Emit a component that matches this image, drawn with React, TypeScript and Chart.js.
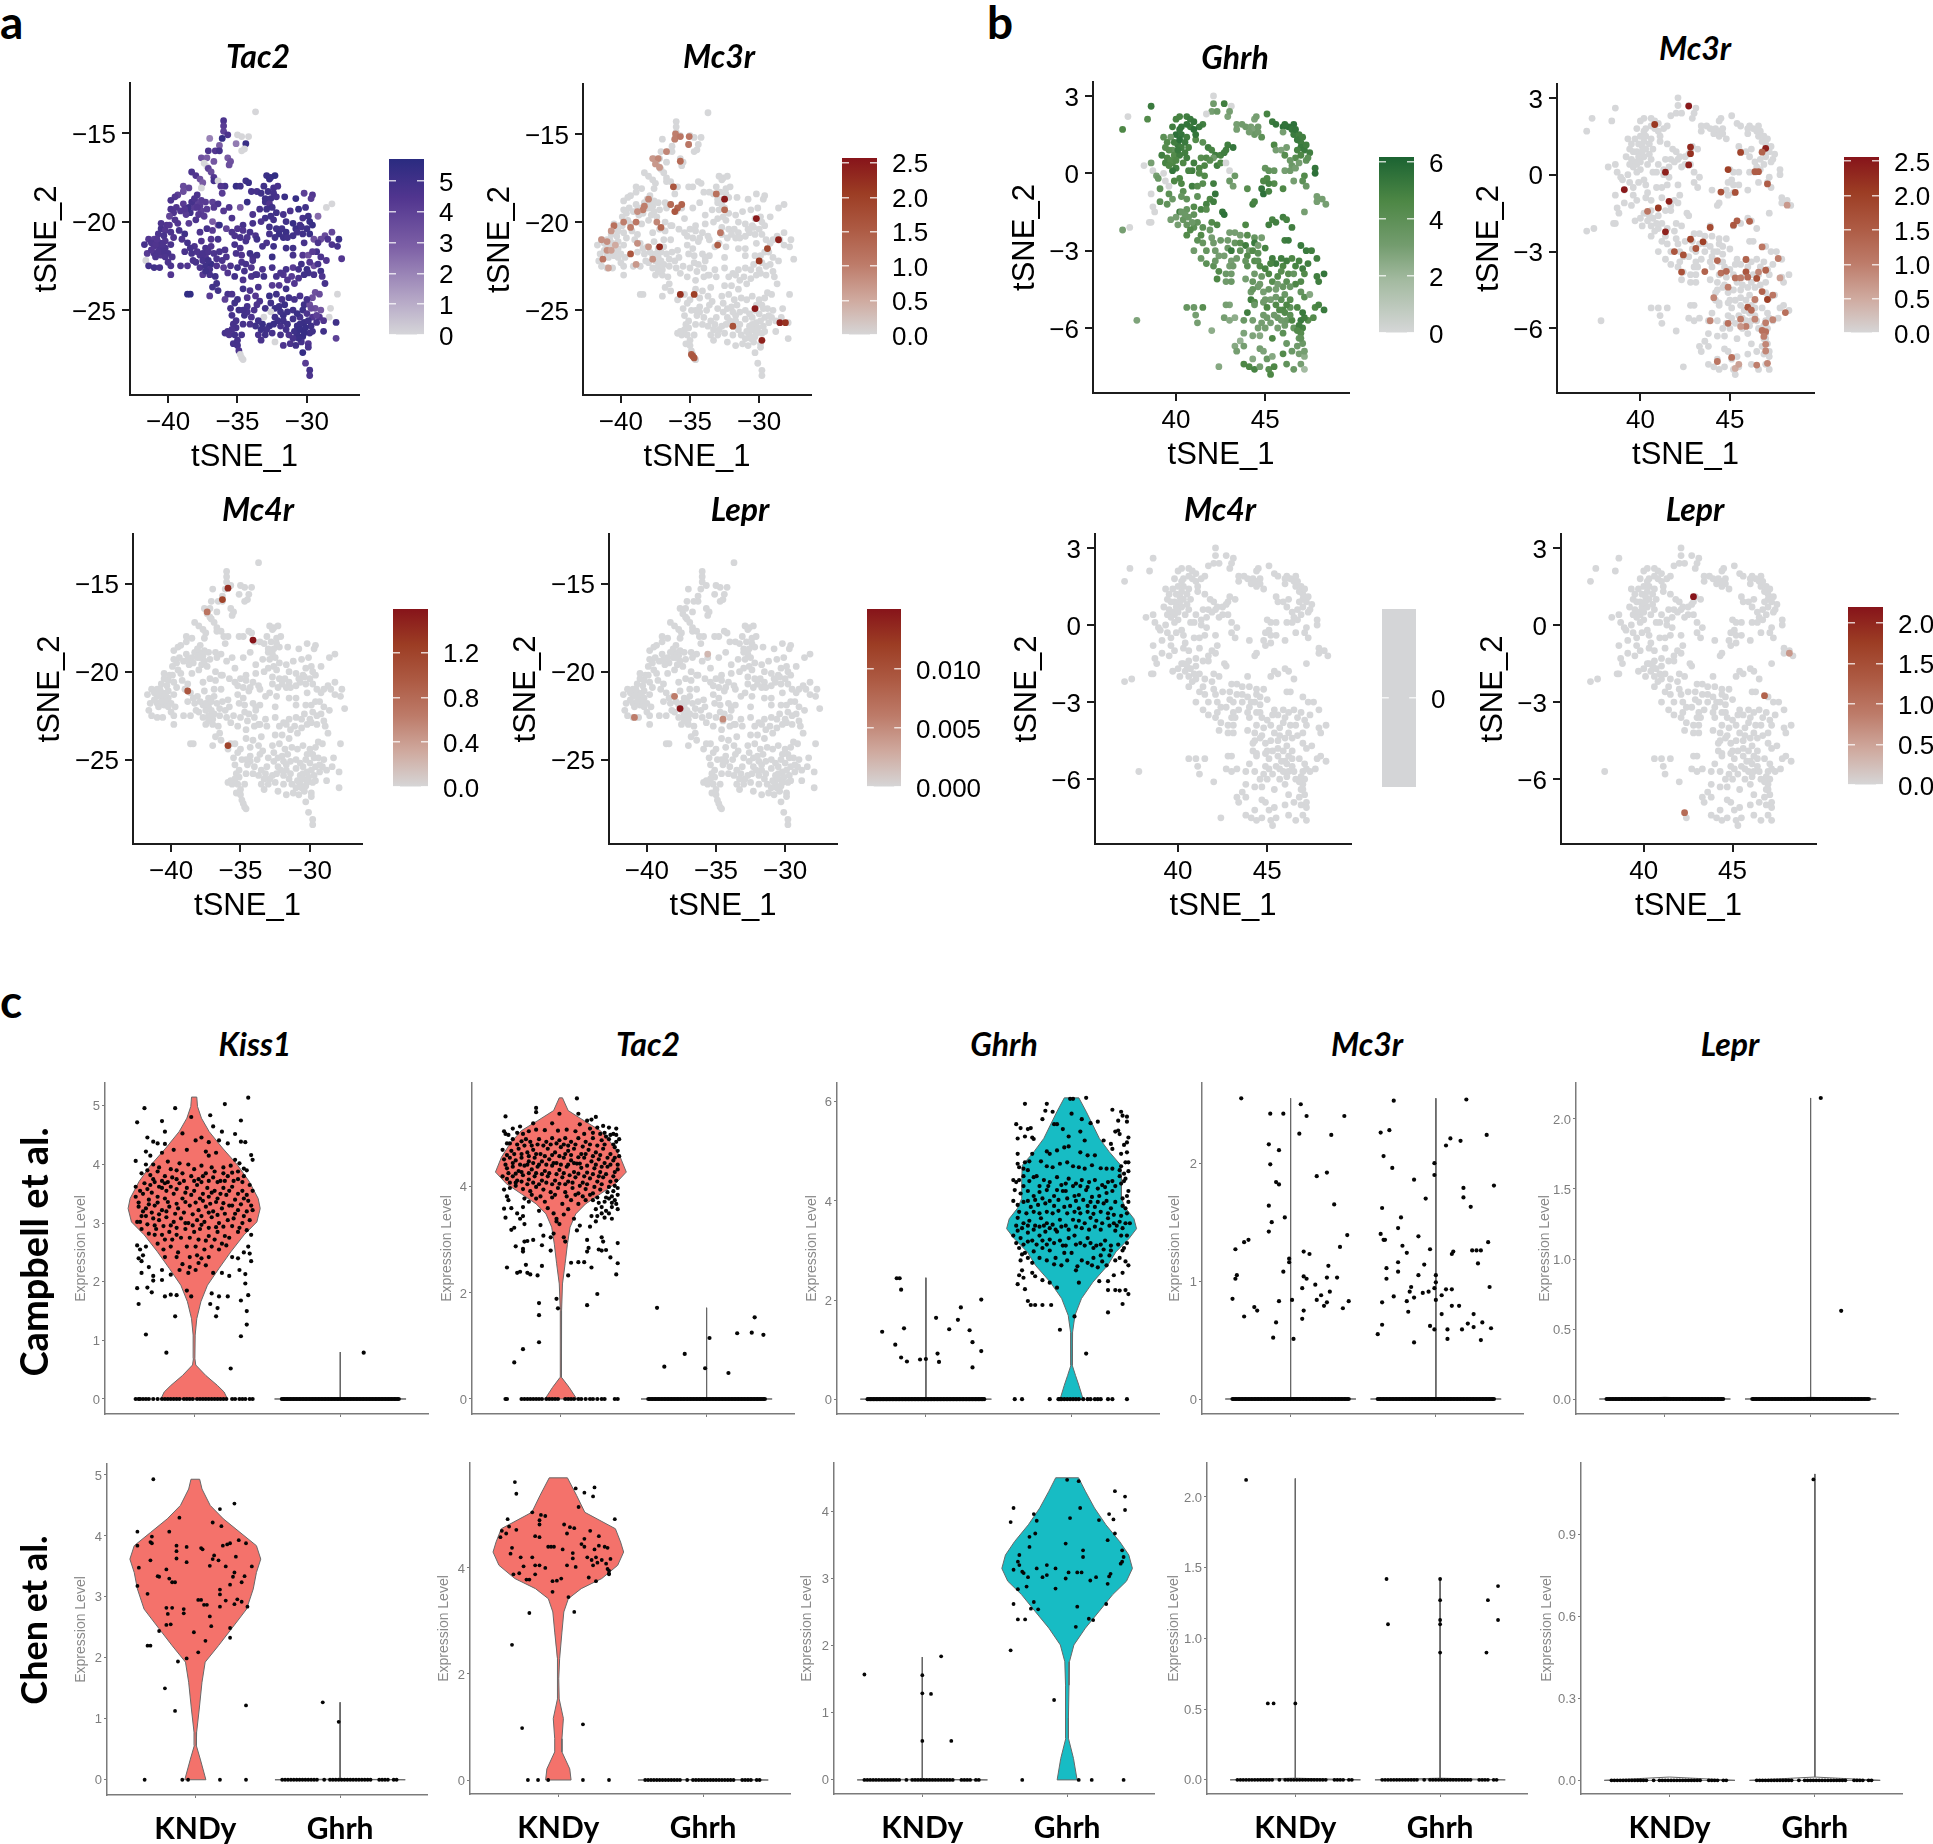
import React, { useEffect, useRef } from "react";
import { Chart, registerables } from "chart.js";
Chart.register(...registerables);

// ---------- tSNE cells, left cluster: [tSNE_1, tSNE_2, Tac2 level]
const cellsA = [
[-36,-14.3,4.6],[-36,-14.6,4.2],[-36,-14.9,4],[-36.1,-15.3,5.3],[-35.7,-15.1,4.6],[-37,-15.3,2],[-35,-15.1,0],[-34.7,-15.2,0],[-34.2,-15.2,0],[-33.7,-13.8,0],[-35.1,-15.6,2.2],[-34.4,-15.6,5.2],[-34.7,-16,0],[-34.5,-15.9,0],[-36.3,-15.7,3],[-37.1,-16,4.6],[-36.6,-16,4.4],[-36.3,-16,4.8],[-37.6,-16.4,3.4],[-37.2,-16.4,3],[-37.4,-16.7,0],[-37.2,-16.9,0],[-36.7,-16.6,3.2],[-35.7,-16.4,3],[-35.5,-16.6,3.4],[-35.6,-16.8,3.5],[-37.1,-17,4],[-36.9,-17.2,3.6],[-36.7,-17.5,4.4],
[-38.3,-17.2,4.6],[-38,-17.4,4.5],[-37.7,-17.6,3.4],[-37.5,-17.8,3],[-36.7,-17.7,4.8],[-36.4,-17.7,0],[-34.4,-17.7,5],[-34.2,-17.8,5.2],[-32.9,-17.4,5.2],[-32.6,-17.5,5.3],[-32.3,-17.4,5.5],[-32.7,-17.6,5.3],[-35.1,-18,5.3],[-34.8,-18,5],[-35.9,-18,4.8],[-36.2,-18,4.5],[-33.1,-18,5],[-32.4,-18.1,4.8],[-32.1,-18,4.7],[-38.9,-18,3.6],[-38.5,-18.1,3.8],[-37.6,-18.1,0],
[-39.3,-18.5,4],[-39.5,-18.6,4.4],[-39.8,-18.8,4.6],[-38.9,-18.3,3.5],[-37.9,-18.5,4.6],[-37.6,-18.8,4.2],[-38,-18.9,4],[-36.1,-18.4,4.2],[-34,-18.3,4.8],[-33.6,-18.3,4.8],[-33.3,-18.4,5],[-33,-18.7,5],[-32.6,-18.7,5],[-32.2,-18.6,4.8],[-31.6,-18.6,5.2],[-30.8,-18.7,5.3],[-30.2,-18.4,4],[-29.6,-18.5,4.4],[-29.7,-18.7,4.2],[-28.2,-19,0],[-28.6,-19.2,0],[-34.3,-18.9,5.3],[-33,-18.9,5],[-32.7,-19,4.5],
[-39.8,-19.3,4.6],[-39.6,-19.5,4.5],[-39.9,-19.7,3.8],[-38.9,-19,4.2],[-38.5,-19.2,5],[-38.4,-19.5,5],[-38.7,-19.6,4.2],[-38.1,-19.2,4.2],[-37.7,-19.1,4.2],[-37.3,-18.9,4.2],[-37.6,-19.4,4],[-37.2,-19.3,4.2],[-36.8,-18.9,4],[-36.4,-19,4.6],[-36,-19.4,4.3],[-35.6,-19.2,4.5],[-34.8,-19.2,3],[-33.9,-19.6,4.6],[-33.4,-19.3,4.8],[-32.5,-19.2,5],[-32.2,-19.5,5],[-32.6,-19.7,5],[-33,-19.8,5],[-31.7,-19.6,4.8],[-31.2,-19.4,4.6],[-30.6,-19.3,5.3],[-30.1,-19.2,5],[-30.3,-19.8,4.8],[-29.9,-19.7,5],[-29.2,-19.7,2.6],[-29.8,-20,5.3],
[-39.3,-20.1,4.4],[-38.5,-20.1,4.2],[-38,-19.9,4.6],[-36.8,-20,3],[-36.4,-20.2,3.2],[-35.4,-19.8,4.6],[-34.6,-20.2,4.8],[-33.9,-20.1,4.8],[-33.3,-20,4.6],[-31.5,-20,5],[-31,-20.1,5.3],[-30.5,-20.2,4.8],[-30.8,-20.4,5.2],[-29.6,-20.2,5.3],[-40.5,-20.4,4.8],[-40.7,-20.7,4.6],[-40.2,-20.5,4.4],[-39.8,-20.6,4.6],[-39.2,-20.5,4.8],[-38.8,-20.7,5],[-37.7,-20.6,4.6],[-37.2,-20.4,4.8],[-36.8,-20.5,4.2],[-36.3,-20.2,5.3],[-35.8,-20.4,3.8],[-35.4,-20.6,4.6],[-35,-20.4,4.5],[-34.6,-20.5,4.5],[-34.1,-20.6,4.8],[-33.7,-20.8,4.6],[-32.7,-20.3,5],[-32.2,-20.4,5],[-31.8,-20.4,5],[-31.5,-20.6,5.2],[-32.7,-20.7,4.8],[-32,-20.7,5.2],[-31,-20.8,5],[-30.3,-20.7,5],[-29.8,-20.7,5.2],[-28.2,-20.6,3.8],[-28.7,-20.8,3.6],
[-41.7,-21.3,4.8],[-41.4,-21,4.4],[-41,-21,4.2],[-40.6,-21.2,4.6],[-40.2,-21.1,4.5],[-40.6,-21.5,4.6],[-41,-21.4,4.4],[-40.2,-21.5,4.7],[-39.8,-21.3,4.7],[-39,-21,4.6],[-38.6,-21.2,4.9],[-38.1,-21.4,4.6],[-37.6,-21.1,4.5],[-37.3,-21.5,4.7],[-36.9,-21.4,4.5],[-36.4,-21,4.8],[-36.9,-21,4.4],[-35.2,-21.3,4.8],[-34.8,-21.5,4.6],[-34.4,-21.1,4.8],[-33.6,-21,5],[-32.9,-21.2,4.6],[-32.4,-21.4,5],[-31.5,-21.5,5],[-31,-21.5,5],[-30.2,-21.2,4.8],[-29.5,-21,3.4],[-29,-21,3.6],[-28.5,-21,4.6],[-28.2,-21.3,4.6],[-27.8,-21.4,4.8],[-27.7,-21,5.2],
[-41.5,-21.8,4.2],[-41,-21.8,4.6],[-40.5,-21.9,4.5],[-40,-21.8,4.7],[-39.7,-22,4.6],[-38.8,-21.7,4.7],[-38.3,-21.8,4.8],[-37.7,-21.9,4.6],[-37.3,-22,4.5],[-36.7,-21.8,4.6],[-36.3,-21.7,4.7],[-35.8,-22,4.6],[-35.1,-21.8,4.7],[-34.7,-21.9,4.5],[-34.1,-21.8,5.1],[-33.6,-21.9,5],[-33.9,-22,4.9],[-32.5,-22,5.2],[-31,-21.9,4.8],[-30.3,-21.9,4.4],[-29.9,-21.9,3.4],[-29.3,-21.7,4.8],[-29,-22,4.6],[-28.6,-22.2,4.5],[-27.5,-22.1,4.4],
[-41.6,-22.2,0],[-41.4,-22.5,4.9],[-41,-22.6,5],[-40.6,-22.6,4.8],[-39.8,-22.5,4.6],[-39.1,-22.5,4.6],[-38.6,-22.5,4.4],[-38,-22.3,4.8],[-37.7,-22.6,4.7],[-37.3,-22.5,5],[-36.9,-22.4,5.2],[-36.5,-22.5,4.5],[-36,-22.6,4.2],[-35.5,-22.5,4.6],[-35,-22.6,5],[-34.5,-22.8,4.8],[-34,-22.6,4.5],[-33.2,-22.7,4.6],[-32.5,-22.6,4.8],[-31.5,-22.7,4.8],[-31,-22.6,4.2],[-30.4,-22.4,5],[-30,-22.7,5.2],[-29.5,-22.5,3.4],[-29.9,-22.9,5],[-29,-22.8,5],
[-39.8,-23,4.4],[-37.5,-23,4.2],[-37,-23,4.8],[-36.6,-23.1,5],[-35.2,-23.1,4.9],[-34.6,-23.3,4.6],[-34,-23.1,4.6],[-33.6,-23,4.7],[-33.1,-23.1,5],[-32.2,-23.1,4.8],[-31.7,-23,4.4],[-31.1,-23.1,4.2],[-30.6,-23.2,4.6],[-28.9,-23.1,4.6],[-28.7,-23.5,4.8],[-36.5,-23.5,5],[-36.8,-23.7,5],[-36.4,-23.9,5],[-34.6,-23.8,5],[-34.1,-23.9,4.6],[-33.5,-23.7,4.7],[-32.5,-23.6,4.2],[-32,-23.6,4.4],[-31.5,-23.8,5],[-30.9,-23.5,4.4],
[-38.6,-24.1,5.5],[-38.4,-24.1,5.5],[-37,-24.2,4.2],[-35.7,-24.1,4.8],[-35.4,-24.1,4.6],[-35,-24.4,5],[-34.3,-24.3,4.5],[-33.7,-24.2,4.4],[-33.4,-24.5,4.7],[-32.7,-24.2,5.2],[-32.2,-24.1,5],[-31.8,-24.4,4.8],[-30.9,-24.4,4.8],[-30.2,-24.7,5],[-29.4,-24,3.4],[-29.1,-24.1,3.6],[-27.8,-24.1,0],[-28.3,-24.9,0],[-35.9,-24.4,4],[-35.5,-24.9,4.8],[-35.2,-24.6,5],[-34.3,-24.8,4.8],[-33.8,-25,4.6],[-33,-24.9,5],[-32.3,-24.9,5.2],[-31.6,-24.7,5.2],[-30.3,-25,5.1],[-29.8,-24.7,3.4],[-29.4,-24.9,3.4],[-29,-25,3.2],
[-35.4,-25.3,4.8],[-34.5,-25.3,5],[-34,-25.4,4.6],[-33.1,-25.4,0],[-32.6,-25.1,0],[-32.3,-25.4,5],[-31.7,-25.3,5.2],[-31,-25.5,5],[-30.5,-25.4,4.8],[-30,-25.2,4.6],[-29.6,-25.4,4.4],[-29.1,-25.4,4.4],[-28.4,-25.4,0],[-27.9,-25.7,5],[-35.3,-25.8,4.8],[-34.6,-25.8,4.8],[-33.7,-25.9,5],[-33.2,-25.8,5.2],[-32.7,-25.9,5.2],[-31.9,-25.9,4.8],[-31.4,-25.8,5],[-30.7,-25.9,5.2],[-30.2,-25.7,5.2],[-29.7,-25.9,5],[-29.3,-25.7,4.8],[-28.8,-25.6,4.5],[-35.9,-26.3,4.8],[-35.6,-26.4,4.6],[-35.2,-26.4,4.9],[-34.7,-26.4,4.8],[-33.5,-26.4,4.7],[-33,-26.4,5],[-32.5,-26.3,4.8],[-31.9,-26.4,4.8],[-31.3,-26.4,4.6],[-30.7,-26.4,5.2],[-30.3,-26.5,5.3],[-29.8,-26.3,5],[-28.8,-26.2,5],[-27.9,-26.6,4],[-35.3,-26.9,4.8],[-35,-27,4.8],[-33.3,-26.7,4.7],[-32.3,-26.8,0],[-31.7,-27,4.6],[-31.2,-26.9,4.7],[-30.8,-27,5],[-30.4,-26.8,4.8],[-29.9,-26.9,4.4],[-34.9,-27.3,4.6],[-34.8,-27.5,0],[-34.7,-27.7,0],[-34.6,-27.8,0],[-30.3,-27.4,5.4],[-29.9,-27.1,4.7],[-30.1,-28,4.2],[-29.8,-28.7,4.6],[-29.8,-28.4,4.8],
[-41.2,-21.2,4.6],[-40.9,-21.3,4.5],[-40.8,-21,4.4],[-40.4,-21.3,4.6],[-40.4,-21.7,4.7],[-40.7,-21.7,4.6],[-41.2,-21.6,4.4],[-40.9,-22,4.6],[-40.2,-22,4.6],[-40,-22.3,4.6],[-40.3,-20.8,4.7],[-40.5,-20.1,4.6],[-40.1,-20.2,4.5],[-39.9,-20.2,4.4],[-39.6,-20.9,4.5],[-39.4,-19.2,4.5],[-39.1,-19.4,4.4],[-38.8,-19.3,4.4],[-38.3,-18.9,4.8],[-38.1,-18.7,4.6],[-37.9,-19.2,4.4],[-37.8,-19.6,4.3],[-37.4,-19.7,4.2],[-36.7,-19.2,4.3],[-39.5,-19.9,4.5],[-38.4,-21.5,4.8],[-37.9,-21.7,4.6],[-38.2,-22.2,4.7],[-37.5,-22.2,4.8],[-37.1,-22.2,5],[-36.5,-22.1,4.6],[-36.1,-22.2,4.6],[-37.5,-21.8,4.7],[-37.1,-21.7,4.6],[-37,-22.7,4.8],[-37.3,-22.8,5],[-35.7,-22.9,4.4],[-34.7,-22.3,4.7],[-34.4,-22.4,4.8],[-35.9,-21.6,4.6],[-35.2,-20.8,4.6],[-34.8,-20.9,4.7],[-34.3,-20.9,4.6],[-33.2,-21.4,4.8],[-32.3,-20.9,5],[-31.7,-20.9,5.1],[-31.4,-20.9,5],[-30.7,-20.6,4.9],[-30.4,-20.3,5],[-30,-20.4,5.1],[-29.2,-21.2,4.6],[-29.6,-21.7,4.2],[-29.2,-22.4,4.8],[-29.8,-22.3,4.4],[-30.6,-22.7,4.8],[-30.2,-23,5],[-29.5,-23,4.8],[-31.9,-22.9,4.6],[-31.4,-23.3,4.4],[-33.7,-23,4.8],[-33.9,-22.2,4.7],[-32.8,-18.3,5],[-32.4,-18.4,4.9],[-32.9,-19.3,5],[-32.4,-19.9,4.9],
[-31.4,-25.1,5.1],[-31,-25,5],[-30.7,-25.2,5.2],[-30.5,-25.8,5.2],[-30.9,-26.2,5.1],[-30.5,-26.1,5.3],[-30.1,-26,5.3],[-29.9,-25.6,5.1],[-29.6,-26.2,5],[-30.2,-26.3,5.3],[-30.6,-26.6,5.2],[-31,-26.6,4.8],[-31.5,-26.1,4.9],[-31.7,-25.6,5],[-32.1,-25.6,5.1],[-32.4,-25.8,5.2],[-32.9,-26.1,5],[-33.3,-26.1,5.1],[-33.5,-25.6,5],[-34.1,-25.8,4.7],[-34.3,-25.1,4.8],[-35.1,-26,4.8],[-35.4,-26.1,4.7],[-35.7,-26.2,4.7],[-35,-26.7,4.8],[-29.7,-24.9,3.6],[-29.3,-25.3,4],[-29.6,-24.3,3.4],[-30,-24.4,4.8],[-30.5,-24.2,4.7],[-31.3,-24.3,5],[-32.6,-24.6,5],[-32,-24.8,5.1],[-31.9,-25.1,5.1],[-33.6,-24.7,4.6],[-34.9,-25,5],[-34.6,-25,4.9],[-35.1,-25.6,4.8]
];
// ---------- tSNE cells, right cluster: [tSNE_1, tSNE_2, Ghrh level]
const cellsB = [
[42.1,3,0],[42.1,2.7,3.2],[42.7,2.7,5],[43.1,2.6,0],[38.6,2.6,5.2],[37.3,2.2,0],[38.4,2.1,4.4],[37,1.7,4.6],[42,2.4,3],[41.7,2.3,0],[42.3,2.4,3.4],[42.9,2.2,2.8],[43,2.4,3],[45.1,2.3,4.8],[44.4,2.1,2.8],[44.5,2.2,3],[40,2.1,4.8],[40.2,2.2,4.8],[40.6,2.2,5],[40.8,2.1,5.2],[41,2,5.4],[41.5,1.9,5],[41.3,1.8,5.2],[39.8,1.8,5],[40.3,1.8,5.4],[40.8,1.8,5.2],[41,1.7,5.6],[45.4,2,5.2],[45.6,1.9,5.4],[46,1.8,5.6],[46.3,1.8,5.6],[46.6,1.9,5.6],[46.5,1.7,5.4],[43.4,1.9,3],[43.4,1.7,3],[43.9,1.8,3.2],[44.2,1.8,3],[44.4,1.7,2.8],[44.6,1.8,3.2],[44.4,1.5,3.4],[44.8,1.4,4],[46,1.6,3],[46.6,1.5,5.2],[46.9,1.5,5],
[40,1.5,5.6],[40.3,1.5,5.4],[40.6,1.4,5],[39.3,1.4,4],[39.7,1.4,3.2],[41.1,1.3,4.4],[41.5,1.2,4],[39.5,1.2,4.4],[47,1.2,5],[47,1,5.2],[45.5,1.1,4.6],[46.2,1,3],[40.1,1.1,5.2],[40.3,1,5],[40.7,1,4.8],[39.4,1,4.2],[39.8,.9,3.8],[41.8,1,5],[42,.9,4.8],[42.9,1.1,5],[43.2,1,5.4],[42.8,.9,5],[47.2,.9,5.2],[47.5,.8,5],[45.6,.9,3],[45.9,.9,2.8],
[39.9,.7,4.4],[40.2,.7,5],[40.6,.6,5],[39.2,.7,5],[39.5,.6,4.6],[42.2,.7,5],[42.5,.7,4.8],[42.7,.8,5],[41.4,.6,4.2],[41.7,.6,4.4],[42.1,.6,3.2],[46.1,.7,4.2],[46.7,.6,4.2],[47,.7,4.6],[47.3,.5,3.8],[39.4,.4,4.8],[39.8,.4,4.6],[40.4,.4,4.6],[41,.4,5],[41.3,.2,4.6],[42.3,.3,5],[42.5,.4,4.6],[42.8,.4,0],[38.2,.3,0],[38.6,.4,3],[40,.2,5],[40.9,.1,5],[46.5,.3,3.4],[46.9,.4,3],
[38.7,.1,0],[38.9,-.1,3],[39.3,0,0],[39.8,.1,5.4],[41.3,0,4.4],[41.6,-.1,4.4],[43,.1,0],[43.3,-.1,3.4],[45,.2,3.6],[45.2,.1,3.8],[45.5,.1,3.6],[46.1,.1,3],[46.4,.1,3.2],[46.7,.2,3],[47.8,.2,5.4],[47.8,0,5.6],[39,-.2,3.4],[40.2,-.2,4.6],[47.2,-.1,4.4],[45.1,-.2,4.6],[44.9,-.3,4.6],[45.5,-.4,4.4],[45.2,-.4,4.8],[43,-.3,3.4],[46.6,-.3,3],[47.1,-.3,4],[43.2,-.5,3],[40.3,-.4,4.6],[39.4,-.3,0],[39.6,-.5,0],[40.9,-.5,5],[41.2,-.5,4.2],[41.5,-.4,4.2],[42.1,-.4,5],[39.1,-.6,4],[44,-.6,4.2],[44.8,-.6,5.4],[44.9,-.8,5.6],[45.2,-.7,4.8],[46,-.6,4.6],[47.3,-.5,3.4],
[39.6,-.8,4],[40.4,-.7,4],[38.6,-.8,0],[39.8,-1,3.4],[40.3,-.9,3.6],[40.6,-1,3.8],[41.2,-.9,3.8],[42.2,-.8,5.4],[41.9,-1,4.6],[42.1,-1.1,5],[47.9,-.9,3],[48.2,-1,3],[48.4,-1.2,3],[47.9,-1.1,3],[39.1,-1.1,4],[39.5,-1.2,3.8],[41.7,-1.2,4.8],[41,-1.3,4.4],[44.3,-1.2,5],[44.4,-1.1,4.8],[38.7,-1.3,0],[38.8,-1.5,0],[41.4,-1.4,4.8],[41.7,-1.4,4.2],[40.2,-1.5,5],[40.6,-1.4,3.6],[42.6,-1.5,5.4],[42.7,-1.6,5.6],[47.2,-1.5,3],[40,-1.7,3],[40.4,-1.8,3.6],[40.7,-1.7,3.4],[41,-1.6,3.8],[39.7,-1.8,3],[38.5,-1.9,0],[38.6,-1.9,0],[42,-1.9,4.4],[42.3,-2,4.6],[45.4,-1.8,4.8],[45.6,-1.9,5],[46,-1.7,5],[46.2,-1.8,4.8],[45.2,-2,5],[46.5,-2.1,5],
[40.1,-2,3],[40.6,-2,3.6],[41.2,-1.9,3.8],[41.5,-2.1,4],[41,-2.1,4],[43.9,-2,4.6],[37,-2.2,3],[37.4,-2.1,0],[41.4,-2.4,4.4],[43,-2.3,3],[43.3,-2.3,3],[43.6,-2.4,3],[44,-2.4,4.2],[44.4,-2.5,3.6],[44.8,-2.5,3],[40.6,-2.4,4.4],[42,-2.5,3],[41.2,-2.6,4],[41.5,-2.7,3.6],[42.1,-2.7,3.2],[42.9,-2.6,3.2],[43.3,-2.7,3.6],[43.6,-2.7,4.2],[44.4,-2.7,5.2],[44.6,-2.8,3],[46.1,-2.6,5],[46.3,-2.6,5.2],[41,-3,3.2],[41.7,-3,3.6],[42.2,-3,3.2],[42.9,-2.9,3.4],[43.1,-3,5.2],[43.9,-2.8,5],[44.1,-3,3],[45,-2.9,4.8],[47,-2.8,5.2],[47.3,-3,5.2],[47.6,-3,5],[41.4,-3.3,3.4],[42.4,-3.2,3],[43.1,-3.4,3],[43.4,-3.3,3.2],[44,-3.2,4.4],[44.4,-3.4,4.2],[44.6,-3.4,4],[45.9,-3.3,5],[47.9,-3.3,5],
[41.7,-3.5,4],[42.1,-3.6,4],[42.4,-3.8,4.4],[43,-3.6,3],[44,-3.6,4],[44.7,-3.6,4.4],[45,-3.7,4.8],[45.6,-3.5,5.2],[46,-3.6,4.6],[46.7,-3.6,4.8],[47.1,-3.7,5],[42.8,-3.9,3.4],[43.1,-3.9,3.2],[44.4,-3.9,3.2],[44.8,-4,3.4],[45.2,-3.9,4.6],[45.7,-4,4.4],[46.3,-3.9,4.2],[46.6,-3.9,3.6],[47.2,-3.9,4.4],[47.9,-4,5],[48.3,-3.9,5.4],[42.3,-4.1,4.6],[42.8,-4.2,3.2],[43.1,-4.2,3.4],[43.9,-4.1,3],[44.3,-4.2,3.6],[44.7,-4.3,3.2],[45.4,-4.2,4.2],[46.7,-4.3,4.6],[47,-4.2,4.4],[48,-4.2,5],
[44.2,-4.6,3.2],[44.9,-4.6,3],[45.6,-4.5,3],[46.1,-4.7,3.4],[47,-4.6,3.6],[47.2,-4.8,4],[47.5,-4.7,2.6],[44.2,-4.9,5],[44.4,-5,4.4],[44.9,-5,3.2],[45.3,-4.9,3],[45.9,-4.9,4],[46.4,-4.9,4.2],[44.4,-5.1,3.4],[41.5,-5.2,4.2],[40.6,-5.2,3.6],[41,-5.2,3.4],[43,-5.1,2.8],[42.8,-5.1,3],[45.1,-5.2,4.6],[45.6,-5.1,4.4],[46,-5.3,4.6],[46.4,-5.2,3.8],[46.8,-5.2,4.6],[47.8,-5.2,4.6],[48,-5.1,4.8],[48.3,-5.3,5.2],[44,-5.4,5],[41.1,-5.5,3],[42.7,-5.6,3],[43,-5.7,2.6],[43.3,-5.6,2.4],
[41.2,-5.8,3],[37.8,-5.7,2.8],[43.8,-5.7,3.4],[44.3,-5.7,3],[44.8,-5.8,3],[45.3,-5.8,3],[45.7,-5.6,3.4],[46.2,-5.7,3.4],[46.5,-5.7,4.6],[47,-5.7,5.2],[47.4,-5.7,4.2],[47.7,-5.6,4.4],[44.6,-6,3],[45,-6,3],[45.7,-6,3],[46.1,-5.9,3.2],[46.6,-6,3.6],[47.1,-6,4.8],[47,-6.2,4.2],[42,-6.1,2.4],[43.8,-6.2,2.8],[44.3,-6.3,2.8],[44.7,-6.3,2.6],[45.4,-6.4,4.6],[46,-6.2,4],[46.9,-6.4,3.6],[47.1,-6.6,3.4],
[43.6,-6.5,2.2],[43.3,-6.7,2.6],[43.8,-6.7,3],[43.4,-6.9,3],[44.7,-6.8,3],[44.9,-6.9,2.8],[46.2,-6.6,3.4],[46.5,-6.9,3.4],[46.9,-7,3],[47.2,-7.1,2.4],[44.3,-7.2,2.6],[45.1,-7.2,3.4],[45.4,-7.1,2.6],[46,-7,4.4],[43.8,-7.4,4.6],[44.1,-7.5,4.6],[44.4,-7.6,4.8],[44.7,-7.5,3],[45.2,-7.6,4.2],[45.5,-7.5,4.6],[45.3,-7.8,4.6],[46.2,-7.4,3.8],[46.6,-7.6,3.4],[47,-7.4,3],[47.2,-7.6,1.8],[42.4,-7.5,2.6],
[39.6,.9,4.2],[39.9,1.2,5],[40.1,.9,5.2],[40.5,.8,5],[39.7,.5,4.4],[40,.5,4.6],[39.6,.3,4.6],[40.2,1.3,5.6],[40.5,1.2,5.2],[40.2,1.7,5.4],[40.6,1.9,5.4],[41.1,1.5,5.4],[41.9,.5,4.2],[41.6,.3,4.6],[40.7,.1,4.8],[39.9,-.3,4.6],[46.1,1.9,5.5],[46.7,1.7,5.5],[46.8,1.3,5.2],[47.1,1.4,5],[47.3,1.1,5],[46.8,.9,4.8],[47.4,.6,4],[46.4,.5,3.4],[44.6,1.6,3.2],[44.1,1.6,3],[43.7,1.9,3.2],
[45.4,-3.3,5],[46.2,-3.4,5],[46.5,-3.3,4.6],[46.9,-3.4,4.8],[47.4,-3.5,5],[45.3,-3.5,4.8],[45.9,-3.8,4.2],[46.2,-4.2,4],[46,-4.4,3.6],[46.4,-4.4,3.4],[45.7,-4.3,3],[45.2,-4.5,3.4],[44.6,-4.4,3.2],[44.3,-4.5,3.6],[45,-4.9,3.2],[45.6,-4.8,3.2],[46.2,-5.1,4.6],[46.1,-5.4,4.4],[45.8,-5.3,4.4],[46.4,-5.5,4],[45.5,-5.5,3.2],[45.1,-5.6,3.2],[44.9,-5.5,3.2],[45.9,-5.7,3.2],[46.9,-5.9,5],[47.2,-5.6,5],[47.1,-5.4,5.2],[46.8,-6.1,4.4],[47,-6.4,3.8],[47.2,-6.9,3],[46.8,-6.7,3.2],
[42.5,-2.6,3.4],[42.7,-3.2,3],[43.2,-3.6,3.2],[43.6,-3,3.8],[43.9,-3.4,3.6],[44.3,-3,4.4],[44.6,-3.1,4],[42.2,-3.4,3.4],[41.9,-2.2,3.4],[40.9,-1.9,3.4],[40.3,-1.5,3.4],[40.5,-1.6,3.4],[40.8,-2.2,4.4]
];

// ---------- highlighted tSNE cells: [tSNE_1, tSNE_2, level]
const mc3rCellsA = [[-36.05,-15,1],[-36.1,-15.3,1],[-35.7,-15.15,1.1],[-35.06,-15.15,1.1],[-35.1,-15.6,1.1],[-36.7,-16,.9],[-35.7,-16.55,1.3],[-37.7,-16.4,.7],[-37.3,-16.4,.9],[-37.5,-16.7,.7],[-37.2,-16.9,.7],[-36.2,-18,1.6],[-33.1,-18.4,1.2],[-32.5,-18.7,2.5],[-32.5,-19.3,1.3],[-38,-18.7,.9],[-36.4,-19,1.3],[-35.6,-19,1.4],[-35.9,-19.2,1.4],[-36.1,-19.4,1.6],[-38.3,-19.1,1],[-38.4,-19.3,1],[-38.8,-19.4,.8],[-30.2,-19.8,2.5],[-37.4,-20,.9],[-37.1,-20.3,1.3],[-38.9,-20,1.1],[-39.8,-20,1],[-39.3,-20.3,1],[-40.5,-20.2,1.2],[-40.7,-20.5,.7],[-32.8,-20.6,1.1],[-33,-21.3,1.5],[-28.6,-21,2.4],[-29.4,-21.5,1.9],[-30,-22.2,2.1],[-41.4,-21,.8],[-41,-21.1,.8],[-40.4,-21.3,.5],[-41,-21.6,.8],[-40.7,-21.6,.6],[-38.8,-21.2,.8],[-38,-21.4,.7],[-37.2,-21.4,2.3],[-39.3,-21.8,1.6],[-41.3,-22.1,1.1],[-37.7,-22.1,.8],[-38.9,-22.4,.7],[-40.9,-22.6,.6],[-35.7,-24.1,2.2],[-34.7,-24.1,2],[-30.3,-24.9,2.5],[-31.9,-25.9,1.7],[-28.5,-25.7,2.4],[-28.1,-25.7,2.2],[-29.8,-26.7,2.4],[-34.9,-27.5,1.5],[-34.8,-27.6,1.6],[-34.7,-27.7,1.6]];
const mc4rCellsA = [[-35.9,-15.25,1.4],[-36.3,-15.9,1.2],[-37.4,-16.6,.7],[-34.1,-18.2,1.59],[-38.8,-21.1,1],[-35.9,-24.2,1.2]];
const leprCellsA = [[-35.6,-19,.002],[-38,-21.4,.006],[-37.6,-22.1,.015],[-34.5,-22.7,.005],[-40.9,-22.6,.006]];
const mc3rCellsB = [[42.7,2.68,2.5],[40.8,1.96,2.1],[42.8,1.08,2.3],[42.8,.82,2.2],[42.7,.38,2.4],[41.4,.1,2.4],[44.9,.2,2],[45.6,.87,1.9],[47,1.03,2.4],[46.8,.88,1.4],[46.4,.12,1.5],[46.6,.12,1.5],[47.1,-.36,1.5],[44.5,-.68,1.7],[45.3,-.69,1.7],[39.1,-.58,2.5],[41.6,-1.04,2.4],[41,-1.3,2.1],[40.4,-1.43,1.1],[48.2,-1.19,.7],[41.4,-2.23,2.4],[45.4,-1.8,1.5],[46.1,-1.82,1.4],[45.2,-1.97,1.6],[43.9,-2.06,1.8],[42.8,-2.52,1.9],[43.5,-2.62,2],[43.1,-2.88,1.6],[41.9,-3,1.6],[42.4,-3.13,1.7],[46.8,-2.82,1.1],[47.7,-3.27,1],[45.9,-3.31,1.4],[44.3,-3.35,1.3],[42.3,-3.8,1.7],[43.6,-3.78,1.4],[44.5,-3.84,1.2],[44.8,-3.77,1.3],[45.9,-3.79,1.6],[47,-3.73,1.4],[46.6,-3.8,.9],[46,-4,1.3],[45.3,-4.03,1.2],[45.6,-4.03,1],[46.5,-4.05,1.7],[47.8,-4.03,.6],[44.9,-4.39,1],[46.8,-4.56,1.4],[47.4,-4.7,1.1],[47.1,-4.87,2],[44.1,-4.8,.9],[46.4,-4.87,1],[46,-5.17,1.6],[46.2,-5.29,1.3],[48.1,-5.38,1.2],[43.9,-5.7,.9],[44.9,-5.8,1.2],[45.6,-5.64,1],[46.4,-5.64,.9],[47.4,-5.66,.9],[45.9,-5.92,1],[45.6,-5.92,.7],[47,-5.78,1],[46.8,-6.08,1.2],[47,-6.13,1.2],[46.9,-6.31,1],[47,-6.62,.9],[47,-6.88,.9],[47.1,-7.36,.9],[46.5,-7.43,1],[45.1,-7.13,1.2],[44.3,-7.29,1.1],[45.3,-7.56,.5],[45.5,-7.4,.6]];
const mc4rCellsB: number[][] = [];
const leprCellsB = [[42.8,1.1,2.2],[48.2,-1.1,.6],[46.8,-2.75,1.2],[42.3,-7.3,1.1]];

// ---------- violin outlines: expression level and half width
const kiss1CampbellLevels = [5.15,4.99,4.79,4.56,4.28,3.99,3.71,3.42,3.25,3.02,2.8,2.51,2.23,1.94,1.66,1.37,1.09,.69,.58,.4,.23,.12,0];
const kiss1CampbellWidths = [.018,.023,.05,.103,.194,.297,.377,.438,.452,.429,.342,.251,.171,.091,.046,.018,.007,.005,.011,.08,.16,.205,.228];
const tac2CampbellLevels = [5.68,5.44,5.25,5.06,4.81,4.56,4.28,4.06,3.87,3.68,3.49,3.24,2.92,2.55,2.17,1.67,1.04,.41,.22,0];
const tac2CampbellWidths = [.011,.05,.159,.272,.351,.408,.449,.374,.272,.17,.102,.063,.045,.029,.011,.005,.003,.005,.057,.109];
const ghrhCampbellLevels = [6.08,5.8,5.53,5.26,4.99,4.72,4.45,4.05,3.85,3.64,3.44,3.24,2.97,2.7,2.36,2.03,1.69,1.35,.68,.48,.28,0];
const ghrhCampbellWidths = [.05,.101,.146,.191,.259,.338,.342,.342,.372,.428,.446,.394,.304,.248,.146,.068,.023,.007,.005,.027,.05,.079];
const kiss1ChenLevels = [4.93,4.77,4.5,4.28,4.06,3.84,3.62,3.4,3.13,2.8,2.48,2.2,1.93,1.6,1.16,.78,.56,.34,0];
const kiss1ChenWidths = [.03,.046,.103,.194,.308,.422,.452,.422,.4,.354,.251,.16,.068,.046,.027,.009,.007,.034,.073];
const tac2ChenLevels = [5.7,5.37,5.05,4.74,4.49,4.3,4.05,3.8,3.61,3.42,3.17,2.79,2.29,1.91,1.53,1.16,.78,.53,.21,0];
const tac2ChenWidths = [.063,.126,.183,.394,.43,.451,.41,.3,.158,.069,.038,.025,.009,.003,.006,.035,.025,.025,.079,.088];
const ghrhChenLevels = [4.5,4.3,4.05,3.8,3.55,3.35,3.15,2.96,2.76,2.51,2.26,2.01,1.76,1.41,.92,.62,.32,0];
const ghrhChenWidths = [.079,.126,.189,.268,.363,.426,.451,.41,.315,.221,.126,.047,.016,.013,.009,.009,.044,.069];

// ---------- jittered cells: [offset from the violin's centre, expression level]
const kiss1CampbellDots = [[-.34,4.96],[-.39,4.72],[-.22,4.74],[-.13,4.96],[.21,5.03],[.37,5.14],[.32,4.75],[.11,4.84],[-.02,4.81],[.13,4.65],[.19,4.56],[.28,4.52],[-.2,4.56],[-.32,4.46],[-.28,4.39],[-.25,4.36],[-.08,4.53],[.05,4.46],[.01,4.41],[.1,4.38],[.17,4.41],[.23,4.36],[.32,4.39],[.35,4.38],[-.2,4.35],[-.33,4.22],[-.3,4.15],[.39,4.16],[.4,4.08],[-.4,4.06],[-.22,4.2],[-.14,4.25],[-.05,4.25],[.08,4.22],[.1,4.15],[.15,4.2],[.28,4.08],[.31,4.02],[.34,3.93],[.36,3.9],[-.28,4],[-.33,4],[-.18,4.05],[-.1,4.02],[-.04,4],[.05,3.98],[.12,3.95],[.2,3.95],[.25,3.98],[-.36,3.85],[-.3,3.82],[-.25,3.88],[-.2,3.8],[-.15,3.78],[-.08,3.85],[-.02,3.8],[.03,3.75],[.06,3.8],[.13,3.78],[.18,3.72],[.23,3.8],[.3,3.75],[.38,3.65],[-.4,3.62],[-.34,3.68],[-.27,3.7],[-.22,3.6],[-.16,3.62],[-.1,3.68],[-.05,3.6],[.02,3.65],[.09,3.6],[.14,3.55],[.2,3.6],[.26,3.62],[.33,3.55],[.4,3.55],[-.4,3.45],[-.35,3.5],[-.31,3.4],[-.25,3.45],[-.2,3.42],[-.14,3.5],[-.08,3.42],[-.02,3.48],[.04,3.42],[.1,3.45],[.16,3.42],[.22,3.48],[.28,3.4],[.34,3.42],[.37,3.38],[-.38,3.28],[-.33,3.25],[-.27,3.3],[-.22,3.22],[-.17,3.28],[-.11,3.25],[-.07,3.18],[-.03,3.3],[.03,3.22],[.08,3.28],[.13,3.2],[.19,3.25],[.24,3.3],[.3,3.22],[.36,3.2],[.4,3.22],[-.39,3.02],[-.36,3.12],[-.33,3.12],[-.28,3.08],[-.24,3.05],[-.19,3.1],[-.14,3.02],[-.09,3.08],[-.04,3.0],[.02,3.05],[.07,3.02],[.12,3.1],[.17,3.0],[.23,3.05],[.27,3.08],[.33,3.0],[.38,3.05],[-.36,2.9],[-.31,2.82],[-.26,2.9],[-.22,2.8],[-.17,2.85],[-.12,2.8],[-.06,2.9],[.0,2.85],[.04,2.9],[.1,2.78],[.16,2.85],[.21,2.78],[.3,2.85],[.36,2.88],[.39,2.8],[-.39,2.62],[-.37,2.55],[-.35,2.45],[-.33,2.6],[-.25,2.65],[-.21,2.55],[-.16,2.6],[-.11,2.5],[-.05,2.6],[.01,2.6],[.07,2.55],[.12,2.6],[.17,2.55],[.22,2.62],[.26,2.42],[.34,2.5],[.37,2.6],[.38,2.48],[.39,2.35],[.3,2.4],[-.38,2.4],[-.36,2.35],[-.2,2.42],[-.12,2.42],[-.03,2.42],[.05,2.4],[.1,2.42],[-.36,2.15],[-.31,2.25],[-.28,2.1],[-.22,2.2],[-.16,2.12],[-.1,2.2],[-.04,2.15],[.01,2.2],[.13,2.15],[.19,2.15],[.24,2.1],[.31,2.2],[.35,2.13],[-.28,2.02],[-.22,2.03],[-.39,1.89],[-.32,1.9],[-.29,1.82],[-.2,1.75],[-.16,1.78],[-.12,1.77],[-.05,1.85],[-.02,1.75],[.12,1.8],[.17,1.75],[.23,1.75],[.35,1.97],[.37,1.77],[-.38,1.62],[.11,1.62],[.16,1.55],[.32,1.68],[.36,1.5],[.15,1.41],[-.13,1.41],[.36,1.27],[-.33,1.1],[.32,1.07],[-.19,.79],[.25,.52],
[-.37,3.55],[-.32,3.58],[-.29,3.52],[-.24,3.62],[-.19,3.55],[-.12,3.58],[-.06,3.52],[.0,3.55],[.06,3.5],[.12,3.52],[.18,3.5],[.24,3.55],[.3,3.5],[.36,3.48],[-.38,3.35],[-.31,3.32],[-.25,3.35],[-.18,3.36],[-.12,3.33],[-.06,3.36],[.01,3.35],[.06,3.38],[.11,3.33],[.15,3.36],[.2,3.34],[.26,3.3],[.32,3.32],[.39,3.3],[-.35,3.2],[-.29,3.18],[-.24,3.15],[-.19,3.2],[-.13,3.16],[-.01,3.15],[.05,3.12],[.1,3.18],[.16,3.14],[.21,3.16],[.28,3.16],[.34,3.12],[-.37,3.02],[-.32,2.98],[-.27,2.96],[-.21,2.95],[-.16,2.96],[-.12,2.92],[-.06,3],[-.01,2.96],[.05,2.97],[.1,2.92],[.15,2.93],[.2,2.94],[.26,2.95],[.31,2.92],[-.27,2.8],[-.2,2.72],[-.15,2.72],[-.09,2.75],[-.03,2.75],[.03,2.72],[.08,2.7],[.14,2.72],[.19,2.65],[.24,2.75],[-.28,3.75],[-.22,3.72],[-.18,3.7],[-.12,3.75],[-.07,3.72],[.0,3.72],[.05,3.7],[.1,3.72],[.16,3.7],[.21,3.72],[.27,3.72],[.33,3.7],[-.3,3.65],[-.2,3.68],[.08,3.85],[.14,3.88],[.2,3.85],[.26,3.86],[.3,3.88],[.34,3.8],[-.32,3.9],[-.24,3.95],[-.16,3.92],[-.12,3.9],[.0,3.92],[.02,2.45],[-.08,2.3],[-.03,2.25],[.03,2.32],[.08,2.28]];
const kiss1CampbellZeros = [-.4,-.38,-.37,-.35,-.33,-.31,-.28,-.25,-.22,-.2,-.18,-.16,-.14,-.12,-.1,-.07,-.05,-.03,-.01,.02,.04,.06,.08,.1,.12,.14,.16,.18,.2,.22,.26,.28,.31,.33,.35,.38,.4];
const groupTwoKiss1CampbellDots = [[.16,.79]];

const tac2CampbellDots = [[-.38,5.33],[-.17,5.49],[-.17,5.41],[.11,5.67],[-.01,5.38],[.12,5.38],[.18,5.25],[.21,5.27],[.24,5.32],[-.28,5.14],[-.19,5.2],[-.39,5.05],[-.38,5],[-.36,4.98],[-.3,5.02],[-.26,5],[-.22,5.05],[-.17,5.08],[-.11,5.07],[-.02,5.06],[.04,5.08],[.1,5.05],[.16,5.0],[.2,5.1],[.25,5.12],[.29,5.15],[.33,5.12],[.38,5.1],[.36,5],[.3,5.02],[-.4,4.7],[-.37,4.82],[-.33,4.9],[-.27,4.86],[-.24,4.9],[-.2,4.78],[-.15,4.9],[-.1,4.85],[-.06,4.92],[-.01,4.88],[.03,4.92],[.07,4.85],[.12,4.92],[.17,4.85],[.22,4.92],[.28,4.88],[.33,4.9],[.38,4.85],[.4,4.9],[.37,4.75],[.39,4.68],[-.34,4.68],[-.29,4.72],[-.23,4.65],[-.19,4.7],[-.14,4.62],[-.09,4.72],[-.04,4.65],[0,4.75],[.05,4.68],[.09,4.72],[.14,4.62],[.19,4.7],[.24,4.65],[.29,4.72],[.34,4.62],[.4,4.58],[-.39,4.52],[-.35,4.55],[-.31,4.5],[-.27,4.55],[-.22,4.48],[-.18,4.55],[-.13,4.48],[-.08,4.52],[-.03,4.45],[.02,4.55],[.07,4.5],[.11,4.44],[.16,4.55],[.21,4.48],[.26,4.52],[.3,4.45],[.36,4.5],[.39,4.42],[-.37,4.35],[-.33,4.38],[-.29,4.3],[-.25,4.4],[-.2,4.33],[-.16,4.38],[-.11,4.3],[-.06,4.4],[-.01,4.32],[.04,4.38],[.09,4.28],[.14,4.36],[.18,4.27],[.23,4.35],[.27,4.28],[.32,4.38],[.37,4.28],[.39,4.33],[-.4,4.2],[-.37,4.15],[-.33,4.2],[-.3,4.12],[-.26,4.22],[-.22,4.14],[-.18,4.2],[-.13,4.12],[-.09,4.2],[-.04,4.12],[.01,4.18],[.05,4.1],[.1,4.18],[.15,4.08],[.2,4.16],[.25,4.1],[.29,4.18],[.34,4.1],[.38,4.12],[-.39,3.95],[-.35,3.98],[-.31,4.02],[-.26,3.96],[-.21,3.92],[-.17,4],[-.12,3.95],[-.07,3.9],[-.02,3.98],[.03,3.9],[.08,3.98],[.12,3.88],[.17,3.96],[.22,3.88],[.27,3.95],[.32,3.9],[.36,3.92],[.39,3.98],[-.37,3.82],[-.36,3.75],[-.22,3.72],[-.17,3.78],[-.11,3.72],[-.06,3.8],[.01,3.68],[.07,3.75],[.12,3.68],[.17,3.75],[.22,3.75],[.26,3.7],[.3,3.72],[.33,3.78],[.37,3.75],[-.39,3.59],[-.34,3.6],[-.26,3.62],[-.15,3.55],[-.09,3.6],[-.05,3.5],[.05,3.58],[.24,3.58],[.28,3.5],[.31,3.55],[.35,3.62],[.39,3.58],[-.3,3.5],[-.28,3.4],[-.26,3.45],[-.38,3.42],[.21,3.45],[.25,3.45],[.3,3.42],[.35,3.4],[-.03,3.4],[.02,3.48],[.09,3.4],[-.34,3.19],[-.32,3.23],[-.25,3.3],[-.14,3.28],[-.03,3.35],[-.01,3.3],[.13,3.27],[.2,3.25],[.11,3.18],[.24,3.35],[-.19,3.0],[-.23,2.98],[-.25,2.97],[-.12,3.08],[-.07,3.05],[-.05,3.12],[.02,3.05],[.28,3.05],[.29,2.97],[-.31,2.88],[-.26,2.83],[-.26,2.78],[-.13,2.9],[-.07,2.8],[.03,2.97],[.18,3],[.19,2.85],[.18,2.78],[.26,2.82],[.28,2.8],[.31,2.81],[.39,2.94],[-.37,2.48],[-.3,2.38],[-.28,2.4],[-.23,2.38],[-.21,2.35],[-.16,2.33],[-.13,2.51],[-.24,2.53],[.05,2.33],[.07,2.57],[.12,2.58],[.16,2.58],[.21,2.48],[.39,2.56],[.38,2.35],[.34,2.67],[.25,1.98],[.18,1.77],[-.03,1.89],[-.02,1.71],[-.15,1.81],[-.15,1.58],[-.15,1.07],[-.26,.94],[-.32,.69],
[-.35,4.82],[-.3,4.8],[-.25,4.78],[-.21,4.85],[-.16,4.8],[-.12,4.78],[-.07,4.8],[-.03,4.82],[.02,4.8],[.05,4.78],[.1,4.8],[.15,4.76],[.2,4.8],[.25,4.78],[.3,4.8],[.36,4.8],[-.37,4.6],[-.32,4.62],[-.27,4.62],[-.22,4.58],[-.17,4.62],[-.11,4.58],[-.06,4.6],[-.01,4.58],[.03,4.62],[.07,4.6],[.12,4.56],[.17,4.62],[.22,4.58],[.27,4.6],[.32,4.55],[.37,4.55],[-.38,4.42],[-.33,4.45],[-.28,4.42],[-.23,4.42],[-.19,4.45],[-.15,4.42],[-.1,4.42],[-.05,4.45],[.0,4.42],[.05,4.42],[.09,4.45],[.13,4.44],[.18,4.4],[.24,4.42],[.28,4.38],[.34,4.42],[-.36,4.26],[-.31,4.25],[-.27,4.28],[-.22,4.26],[-.17,4.26],[-.13,4.24],[-.08,4.26],[-.03,4.24],[.02,4.26],[.06,4.22],[.12,4.25],[.16,4.2],[.22,4.24],[.26,4.2],[.31,4.24],[.36,4.2],[-.35,4.08],[-.31,4.08],[-.27,4.1],[-.23,4.05],[-.19,4.08],[-.15,4.05],[-.1,4.08],[-.06,4.05],[-.01,4.06],[.03,4.05],[.08,4.08],[.13,4.02],[.18,4.05],[.23,4],[.28,4.05],[.33,4],[.37,4.02],[.31,3.8],[.35,3.82],[.39,3.85],[.38,3.68],[.35,3.7],[-.25,3.78],[-.2,3.85],[-.14,3.82],[-.04,3.85],[.04,3.82],[.1,3.85],[.15,3.82],[.2,3.85],[.25,3.8],[.28,3.62],[.33,3.5],[.38,4.98],[.34,4.98],[.31,4.95],[.27,5],[.22,5.02],[-.33,5.1],[.13,5.18],[-.06,5.2]];
const tac2CampbellZeros = [-.38,-.37,-.27,-.25,-.23,-.21,-.19,-.17,-.15,-.13,-.1,-.08,-.06,-.04,-.02,.03,.05,.07,.09,.12,.14,.17,.2,.22,.25,.28,.3,.37,.39];
const tac2CampbellGroupTwoDots = [[-.34,1.72],[-.29,.61],[-.15,.85],[-.01,.58],[.02,1.15],[.15,.49],[.21,1.24],[.31,1.25],[.33,1.54],[.39,1.21]];

const ghrhCampbellKndyDots = [[-.2,2.44],[-.18,2.44],[-.17,2.21],[-.3,1.36],[-.15,1.43],[-.21,1.1],[-.17,.84],[-.13,.76],[-.04,.8],[0,.81],[.07,1.64],[.08,.92],[.09,.75],[.16,1.41],[.22,1.6],[.24,1.85],[.3,1.39],[.32,1.15],[.38,2.01],[.38,.97],[.32,.64]];
const ghrhCampbellDots = [[-.32,5.96],[-.17,5.96],[-.18,5.82],[-.13,5.8],[-.2,5.65],[-.12,5.55],[-.38,5.55],[-.35,5.47],[-.28,5.47],[-.3,5.45],[-.37,5.26],[-.32,5.3],[-.27,5.28],[-.26,5.25],[-.1,5.55],[-.06,5.45],[.0,5.76],[.01,6.06],[-.01,6.06],[.1,6.08],[.07,5.65],[.13,5.57],[.18,5.6],[.06,5.4],[-.02,5.3],[.09,5.22],[.28,5.84],[.34,5.8],[.35,5.72],[.38,5.7],[.32,5.62],[.38,5.6],[.3,5.4],[.33,5.35],[.32,5.42],[.39,5.28],[.22,5.22],[.27,5.15],[.36,5.13],[.38,5.18],[-.37,4.95],[-.27,4.95],[-.17,5],[-.15,4.95],[-.1,5.02],[-.05,5.08],[-.02,5.1],[.06,4.98],[.11,4.92],[.16,4.92],[.28,5.05],[.34,4.95],[.38,4.98],[-.37,4.75],[-.32,4.78],[-.29,4.8],[-.36,4.68],[-.33,4.65],[-.3,4.62],[-.21,4.8],[-.17,4.7],[-.13,4.68],[-.08,4.75],[-.03,4.78],[.01,4.7],[.05,4.68],[.09,4.65],[.14,4.72],[.2,4.66],[.24,4.65],[.28,4.65],[.33,4.62],[.36,4.55],[.37,4.78],[.39,4.78],[-.4,4.42],[-.38,4.38],[-.36,4.42],[-.33,4.3],[-.26,4.48],[-.24,4.5],[-.19,4.42],[-.15,4.38],[-.1,4.48],[-.07,4.32],[-.02,4.45],[.03,4.35],[.07,4.42],[.12,4.38],[.16,4.42],[.21,4.32],[.25,4.38],[.3,4.3],[.34,4.35],[-.39,4.22],[-.35,4.15],[-.3,4.2],[-.26,4.1],[-.22,4.18],[-.17,4.22],[-.12,4.1],[-.1,4.22],[-.06,4.2],[-.04,4.2],[.02,4.1],[.05,4.12],[.1,4.22],[.14,4.08],[.19,4.1],[.24,4.16],[.28,4.2],[.38,4.1],[.39,4.2],[-.4,4],[-.37,3.92],[-.33,3.98],[-.28,3.88],[-.23,3.92],[-.18,3.95],[-.12,3.9],[-.05,3.88],[-.01,3.9],[.05,3.85],[.11,3.9],[.16,3.88],[.22,3.95],[.27,3.85],[.35,3.9],[.37,3.85],[-.37,3.66],[-.33,3.55],[-.29,3.6],[-.25,3.5],[-.21,3.65],[-.17,3.55],[-.13,3.52],[-.08,3.62],[-.04,3.5],[.01,3.62],[.05,3.6],[.09,3.55],[.13,3.66],[.17,3.6],[.21,3.55],[.25,3.65],[.29,3.55],[.33,3.58],[.37,3.55],[.4,3.55],[-.4,3.3],[-.37,3.4],[-.35,3.25],[-.3,3.36],[-.27,3.2],[-.22,3.3],[-.18,3.38],[-.15,3.22],[-.1,3.38],[-.06,3.1],[-.02,3.25],[.02,3.3],[.06,3.15],[.11,3.25],[.15,3.05],[.2,3.12],[.23,3.2],[.27,3.1],[.3,3.4],[.34,3.3],[.38,3.15],[.38,3.3],[-.36,3.05],[-.34,2.92],[-.32,2.95],[-.26,2.98],[-.2,3.05],[-.15,3],[-.11,2.85],[-.05,2.95],[.0,2.95],[.07,2.8],[.11,2.75],[.14,2.7],[.18,2.66],[.21,2.78],[.24,2.7],[.3,2.8],[.35,3],[.37,2.78],[.39,2.7],[-.34,2.6],[-.36,2.5],[-.33,2.45],[-.27,2.75],[-.27,2.55],[-.25,2.48],[-.2,2.4],[-.15,2.35],[-.1,2.25],[.03,2.6],[.05,2.35],[.19,2.38],[.25,2.38],[.29,2.5],[.35,2.55],[.37,2.2],[.39,2.12],[-.37,2.32],[-.32,2.22],[-.3,1.98],[-.28,1.9],[-.25,1.9],[-.2,1.9],[-.14,1.9],[-.08,1.4],[.02,1.67],[.1,.92],[.25,2.2],[.3,2.2],[.33,2.19],[.35,1.92],[.25,1.75],
[-.38,3.5],[-.34,3.45],[-.3,3.5],[-.26,3.42],[-.22,3.48],[-.19,3.5],[-.15,3.45],[-.11,3.42],[-.07,3.48],[-.02,3.42],[.03,3.48],[.07,3.45],[.12,3.42],[.16,3.48],[.2,3.42],[.26,3.5],[.31,3.5],[.35,3.45],[-.38,3.15],[-.33,3.12],[-.3,3.18],[-.24,3.12],[-.2,3.2],[-.17,3.12],[-.12,3.15],[-.08,3.2],[-.04,3.1],[.03,3.12],[.09,3.1],[.13,3.15],[.17,3.1],[.22,3.02],[.27,3],[.32,3.12],[.36,3.05],[-.36,3.78],[-.31,3.75],[-.26,3.78],[-.22,3.75],[-.17,3.78],[-.13,3.75],[-.09,3.8],[-.03,3.75],[.02,3.78],[.06,3.75],[.11,3.78],[.15,3.74],[.2,3.78],[.25,3.75],[.29,3.72],[.34,3.7],[-.3,4],[-.25,4.02],[-.2,4.05],[-.15,4],[-.09,4.02],[-.03,4.05],[.03,4],[.08,4.02],[.13,3.98],[.18,3.98],[.24,4],[.3,3.98],[.35,4.05],[-.33,4.5],[-.29,4.4],[-.22,4.3],[-.16,4.3],[-.04,4.35],[.01,4.3],[.06,4.3],[.11,4.28],[.18,4.25],[.23,4.28],[.28,4.4],[.33,4.5],[.36,4.4],[-.35,2.8],[-.3,2.85],[-.22,2.85],[-.17,2.8],[-.12,2.72],[-.07,2.7],[-.03,2.8],[.04,2.68],[.15,2.85],[.2,2.9],[.26,2.9],[.33,2.85],[.39,4.6],[.37,4.45],[.34,4.7],[.38,3.75],[.39,3.98]];
const ghrhCampbellKndyZeros = [-.4,-.38,-.36,-.34,-.32,-.3,-.28,-.26,-.24,-.22,-.2,-.18,-.16,-.14,-.12,-.1,-.08,-.06,-.04,-.02,0,.02,.04,.06,.08,.1,.12,.14,.16,.18,.2,.22,.24,.26,.28,.3,.32,.34,.36,.38,.4,-.39,-.37,-.35,-.33,-.31,-.29,-.27,-.25,-.23,-.21,-.19,-.17,-.15,-.13,-.11,-.09,-.07,-.05,-.03,-.01,.01,.03,.05,.07,.09,.11,.13,.15,.17,.19,.21,.23,.25,.27,.29,.31,.33,.35,.37,.39];
const ghrhCampbellZeros = [-.39,-.34,-.15,-.09,-.08,-.07,-.05,-.03,-.01,.01,.03,.05,.08,.11,.13,.16,.18,.2,.25,.28,.38];

const mc3rCampbellKndyDots = [[-.34,2.55],[-.14,2.42],[-.05,2.42],[.07,2.5],[.11,2.4],[.37,2.4],[.06,2.25],[.28,2.24],[-.15,2.16],[-.08,2.11],[-.14,1.99],[-.1,1.84],[-.08,1.82],[.18,1.89],[.25,1.92],[.3,1.65],[-.15,1.64],[-.13,1.5],[-.04,1.54],[-.15,1.42],[.39,1.39],[-.32,1.33],[-.29,1.35],[-.38,1.27],[.34,1.29],[.09,1.25],[.13,1.23],[-.01,1.19],[-.01,1.16],[.26,1.13],[-.05,1.08],[-.37,1.05],[-.38,1.02],[.09,1.04],[.11,1.02],[.25,1.03],[.32,1.03],[.17,.97],[.08,.94],[.21,.88],[.27,.91],[-.4,.85],[-.08,.83],[.01,.84],[.18,.84],[.4,.83],[.25,.82],[.23,.79],[-.25,.78],[-.23,.75],[.09,.75],[.36,.77],[-.32,.7],[.08,.68],[-.1,.65],[-.12,.52],[.02,.51]];
const mc3rCampbellGhrhDots = [[-.29,2.53],[.21,2.54],[-.38,2.26],[-.32,2.28],[.35,2.24],[.1,2.21],[.17,2.19],[.07,2.15],[-.36,2.06],[-.3,1.96],[-.01,2],[-.01,1.9],[-.15,1.86],[.19,1.79],[.4,1.81],[.19,1.71],[-.07,1.7],[-.37,1.62],[.24,1.63],[-.24,1.54],[-.26,1.45],[-.38,1.4],[-.12,1.38],[-.36,1.35],[-.35,1.35],[.36,1.33],[-.23,1.3],[-.04,1.27],[-.2,1.24],[.25,1.26],[.28,1.26],[.31,1.26],[.12,1.25],[.11,1.23],[-.26,1.16],[-.08,1.14],[.29,1.15],[-.34,1.11],[-.26,1.08],[-.12,1.05],[0,1.05],[-.34,1.02],[0,.99],[-.17,.95],[.37,.95],[-.18,.91],[-.09,.9],[-.05,.91],[-.01,.94],[.07,.93],[.11,.93],[.04,.88],[-.15,.86],[-.29,.87],[-.2,.83],[0,.84],[-.37,.82],[.11,.79],[.16,.79],[-.19,.74],[.04,.72],[.26,.72],[.32,.65],[-.37,.63],[.22,.64],[-.04,.62],[-.01,.59],[.26,.61],[.38,.6],[.08,.59],[.18,.59],[-.4,.55],[.08,.51],[.31,.5],[-.15,.48]];
const leprCampbellGhrhDots = [[.07,2.15],[.21,.63]];

const solidZeroRow = [-.4,-.39,-.38,-.37,-.36,-.35,-.34,-.33,-.32,-.31,-.3,-.29,-.28,-.27,-.26,-.25,-.24,-.23,-.22,-.21,-.2,-.19,-.18,-.17,-.16,-.15,-.14,-.13,-.12,-.11,-.1,-.09,-.08,-.07,-.06,-.05,-.04,-.03,-.02,-.01,0,.01,.02,.03,.04,.05,.06,.07,.08,.09,.1,.11,.12,.13,.14,.15,.16,.17,.18,.19,.2,.21,.22,.23,.24,.25,.26,.27,.28,.29,.3,.31,.32,.33,.34,.35,.36,.37,.38,.39,.4];
const gappedZeroRow = [-.4,-.38,-.36,-.34,-.32,-.3,-.28,-.26,-.24,-.22,-.2,-.18,-.16,-.11,-.07,-.05,-.03,-.01,.01,.03,.05,.07,.09,.11,.13,.15,.17,.19,.21,.27,.29,.31,.33,.37,.39];

const kiss1ChenDots = [[-.29,4.93],[.27,4.53],[.17,4.44],[-.11,4.3],[.12,4.22],[.18,4.16],[-.4,4.07],[-.18,4.07],[-.3,3.99],[-.31,3.9],[-.3,3.88],[-.4,3.84],[-.13,3.84],[-.13,3.75],[-.06,3.82],[.04,3.8],[.05,3.78],[.19,3.84],[.22,3.86],[.24,3.88],[.3,3.93],[.35,3.88],[-.13,3.63],[-.31,3.6],[-.06,3.57],[.12,3.62],[.13,3.68],[.16,3.6],[.28,3.66],[-.39,3.48],[.1,3.51],[.21,3.5],[.39,3.5],[-.2,3.45],[.27,3.4],[.26,3.33],[.34,3.34],[-.26,3.34],[-.25,3.33],[-.18,3.3],[-.16,3.24],[-.14,3.24],[.24,3.2],[.32,3.24],[-.4,3.18],[.17,3.12],[.17,3.04],[-.33,3.05],[.02,2.95],[.04,2.95],[.21,2.94],[.29,2.96],[.32,2.92],[.27,2.88],[.06,2.87],[.08,2.87],[.17,2.84],[.36,2.84],[-.2,2.82],[-.16,2.82],[-.08,2.8],[-.08,2.73],[-.19,2.72],[.1,2.68],[-.2,2.54],[-.17,2.55],[.11,2.52],[.24,2.49],[-.25,2.44],[-.01,2.42],[.24,2.33],[.07,2.28],[-.33,2.2],[-.31,2.2],[.02,2.09],[-.06,1.99],[-.12,1.94],[-.21,1.5],[-.14,1.13],[.35,1.22]];
const kiss1ChenZeros = [-.35,-.09,-.05,.17,.35];
const kiss1ChenGhrhDots = [[-.12,1.27],[-.01,.95]];

const tac2ChenDots = [[-.3,5.62],[-.29,5.4],[.12,5.5],[.18,5.42],[.25,5.52],[.24,5.35],[.14,5.15],[-.18,5.05],[-.35,4.92],[-.34,4.78],[-.12,5],[-.13,4.9],[-.13,4.82],[-.09,4.98],[.04,4.82],[.08,4.77],[.11,4.75],[.39,4.92],[-.39,4.7],[-.36,4.65],[-.4,4.58],[-.29,4.72],[.06,4.65],[.22,4.7],[.28,4.6],[-.16,4.6],[-.13,4.58],[.28,4.42],[.16,4.45],[.18,4.55],[.18,4.4],[.25,4.35],[.32,4.4],[.34,4.38],[-.32,4.38],[-.33,4.27],[-.07,4.4],[-.05,4.4],[-.03,4.4],[.03,4.35],[.1,4.28],[.1,4.18],[.2,4.2],[.23,4.15],[.26,4.2],[.27,4.1],[.3,4.15],[.36,4.17],[-.18,4.2],[-.26,4.2],[-.24,4.03],[-.16,4.05],[-.13,4.05],[-.09,4],[.06,4.05],[.12,4.02],[.24,4.05],[.33,4.08],[.34,3.98],[.35,3.95],[-.31,3.88],[-.27,3.9],[-.22,3.78],[-.2,3.78],[-.16,3.88],[-.04,3.75],[-.01,3.76],[.02,3.8],[.21,3.82],[.26,3.75],[.35,3.88],[.35,3.9],[-.04,3.55],[.07,3.45],[.11,3.17],[-.2,3.15],[-.32,2.55],[-.25,.98],[.17,1.05]];
const tac2ChenZeros = [-.21,-.14,-.07,.17,.35];

const ghrhChenKndyDots = [[-.4,1.57],[.13,1.84],[.06,1.28],[.2,.58],[0,1.56],[0,1.29],[0,.58]];
const ghrhChenDots = [[.0,4.47],[.08,4.45],[-.37,4.05],[.09,4.05],[.33,4.3],[.4,4.22],[.4,4.02],[.29,3.96],[.32,3.88],[-.23,3.96],[.02,3.9],[.22,3.87],[-.39,3.84],[-.21,3.86],[-.22,3.67],[.33,3.67],[-.26,3.62],[.28,3.57],[-.01,3.52],[-.26,3.47],[.11,3.42],[.38,3.42],[-.33,3.35],[-.34,3.25],[.11,3.32],[.39,3.32],[.38,3.25],[-.33,3.2],[-.37,3.13],[-.21,3.15],[-.14,3.2],[-.08,3.15],[.37,3.22],[-.31,3.1],[-.3,3.08],[.01,3.09],[.07,3.09],[.1,3.09],[.3,3.07],[.29,3.03],[-.27,3.02],[-.17,3.02],[-.14,3.05],[-.01,3],[.2,3.02],[.16,2.97],[-.28,2.88],[.28,2.92],[-.08,2.85],[-.34,2.84],[-.23,2.65],[-.37,2.62],[.27,2.62],[.07,2.58],[-.25,2.55],[-.2,2.54],[-.34,2.39],[-.29,2.39],[.18,2.38],[.15,2.4],[.06,2.28],[-.39,1.93],[-.09,1.19]];
const ghrhChenZeros = [-.31,.08,.17,.39];

const mc3rChenKndyDots = [[-.34,2.12],[-.19,.54],[-.15,.54],[0,.54]];
const mc3rChenGhrhDots = [[-.37,1.42],[-.36,1.1],[0,1.42],[0,1.27],[0,1.13],[0,1.1],[0,.9],[.33,1.27],[.4,1.37],[.4,1.13],[.32,.9]];
const leprChenGhrhDots = [[-.01,1.1]];

// ---------- palettes: [fraction of scale, colour]
const purplePalette = [[0,"#d6d6d9"],[.2,"#b5a7c6"],[.5,"#7d60a6"],[.78,"#51358f"],[1,"#2a2b80"]];
const greenPalette = [[0,"#d6d7d8"],[.3,"#a3baa0"],[.5,"#739c6e"],[.75,"#4d8745"],[1,"#1b6332"]];
const redPalette = [[0,"#d6d6d7"],[.2,"#cfa99e"],[.4,"#bd7b69"],[.6,"#ad5a43"],[.8,"#9c3d24"],[1,"#87141a"]];
const greyPalette = [[0,"#d4d5d7"],[1,"#d4d5d7"]];

const hex = (c: string) => [1, 3, 5].map((i) => parseInt(c.slice(i, i + 2), 16));
function shade(palette: any[], f: number) {
  const t = Math.max(0, Math.min(1, f));
  for (let i = 1; i < palette.length; i++) {
    if (t <= palette[i][0]) {
      const [a, ca] = palette[i - 1];
      const [b, cb] = palette[i];
      const k = (t - a) / (b - a);
      const A = hex(ca), B = hex(cb);
      return `rgb(${A.map((v, j) => Math.round(v + (B[j] - v) * k)).join(",")})`;
    }
  }
  return palette[palette.length - 1][1];
}

const SANS = '"Liberation Sans", Arial, sans-serif';
const LATO = 'Lato, "Open Sans", sans-serif';
const INK = "#1c1c1c";
const minus = (s: string) => s.replace("-", "\u2212");
const fixTicks = (vals: number[]) => (s: any) => { s.ticks = vals.map((value) => ({ value })); };
const noPad = (s: any) => { s.paddingTop = s.paddingBottom = s.paddingLeft = s.paddingRight = 0; };

const GREY = "#d6d7d9";
const xTicksA = [-40, -35, -30];
const yTicksA = [-15, -20, -25];
const xTicksB = [40, 45];
const yTicksB = [3, 0, -3, -6];
const rangeA = { x0: -42.74, x1: -26.25, y0: -29.8, y1: -12.17 };
const rangeB = { x0: 35.34, x1: 49.7, y0: -8.52, y1: 3.54 };

function tsneConfig(p: any) {
  const W = p.r - p.l, H = p.b - p.t;
  const A = p.cluster === "A";
  const cells = A ? cellsA : cellsB;
  const range = A ? rangeA : rangeB;
  const pick = (rows: number[][]) => rows.map(([x, y, v]) => ({ x, y, c: shade(p.palette, v / p.vmax) }));
  const size = { pointRadius: 3.4, pointBorderWidth: 0 };
  let datasets: any[];
  if (p.main) {
    const pts = pick(cells);
    datasets = [{ data: pts, pointBackgroundColor: pts.map((d) => d.c), ...size }];
  } else {
    const hi = pick(p.cells);
    datasets = [
      { data: hi, pointBackgroundColor: hi.map((d) => d.c), ...size },
      { data: cells.map(([x, y]) => ({ x, y })), pointBackgroundColor: GREY, ...size },
    ];
  }
  const wy = 110, wx = 85, padT = 10, padR = 14;
  const ticks = { color: "#000", font: { family: SANS, size: 26 }, autoSkip: false, maxRotation: 0 };
  const grid = { drawOnChartArea: false, color: INK, lineWidth: 2, tickLength: 8 };
  const border = { color: INK, width: 2 };
  const titleFont = { family: SANS, size: 31 };
  return {
    box: { left: p.l - wy, top: p.t - padT, width: wy + W + padR, height: padT + H + wx },
    config: {
      type: "scatter",
      data: { datasets },
      options: {
        animation: false, responsive: false, events: [],
        layout: { autoPadding: false, padding: { top: padT, right: padR, left: 0, bottom: 0 } },
        plugins: { legend: { display: false }, tooltip: { enabled: false } },
        scales: {
          x: {
            type: "linear", min: range.x0, max: range.x1, afterBuildTicks: fixTicks(A ? xTicksA : xTicksB),
            afterFit: (s: any) => { s.height = wx; noPad(s); },
            ticks: { ...ticks, padding: 4, callback: (v: number) => minus(String(v)) }, grid, border,
            title: { display: true, text: "tSNE_1", color: "#000", font: titleFont, padding: 4 },
          },
          y: {
            type: "linear", min: range.y0, max: range.y1, afterBuildTicks: fixTicks(A ? yTicksA : yTicksB),
            afterFit: (s: any) => { s.width = wy; noPad(s); },
            ticks: { ...ticks, padding: 6, labelOffset: 2.5, callback: (v: number) => minus(String(v)) }, grid, border,
            title: { display: true, text: "tSNE_2", color: "#000", font: titleFont, padding: A ? 9 : 24 },
          },
        },
      },
    },
  };
}

function barConfig(p: any) {
  const w = p.x1 - p.x0, h = p.y1 - p.y0, pad = 20, wy = 90;
  return {
    box: { left: p.x0, top: p.y0 - pad, width: w + wy, height: h + 2 * pad },
    config: {
      type: "bar",
      data: {
        labels: [p.name],
        datasets: [{
          data: [[p.lo, p.hi]], barPercentage: 1, categoryPercentage: 1, borderWidth: 0,
          backgroundColor: (c: any) => {
            const a = c.chart.chartArea;
            if (!a) return p.palette[0][1];
            const g = c.chart.ctx.createLinearGradient(0, a.bottom, 0, a.top);
            p.palette.forEach(([f, col]: any) => g.addColorStop(f, col));
            return g;
          },
        }],
      },
      options: {
        animation: false, responsive: false, events: [],
        layout: { autoPadding: false, padding: { top: pad, bottom: pad, left: 0, right: 0 } },
        plugins: { legend: { display: false }, tooltip: { enabled: false } },
        scales: {
          x: { display: false },
          y: {
            position: "right", min: p.lo, max: p.hi, afterBuildTicks: fixTicks(p.ticks),
            afterFit: (s: any) => { s.width = wy; noPad(s); },
            grid: { z: 1, color: "rgba(255,255,255,0.75)", lineWidth: 1.5, drawTicks: false, tickLength: 0 },
            border: { display: false, dash: [w / 5, (3 * w) / 5] },
            ticks: {
              color: "#000", font: { family: SANS, size: 26 }, padding: 15, labelOffset: 2.5, autoSkip: false,
              callback: (v: number) => v.toFixed(p.dec),
            },
          },
        },
      },
    },
  };
}

const violinFillPlugin = {
  id: "violinFill",
  beforeDatasetDraw(chart: any, args: any) {
    const ds = chart.data.datasets[args.index];
    if (!ds.violinFill) return;
    const pts = chart.getDatasetMeta(args.index).data;
    const ctx = chart.ctx;
    ctx.save();
    ctx.beginPath();
    pts.forEach((pt: any, i: number) => (i ? ctx.lineTo(pt.x, pt.y) : ctx.moveTo(pt.x, pt.y)));
    ctx.closePath();
    ctx.fillStyle = ds.violinFill;
    ctx.fill();
    ctx.restore();
  },
};

function outline(cx: number, levels: number[], widths: number[]) {
  const right = levels.map((y, i) => ({ x: cx + widths[i], y }));
  const left = levels.map((y, i) => ({ x: cx - widths[i], y })).reverse();
  return [...right, ...left, right[0]];
}
const spikeLevels = (top: number) => [top, 0.012, 0];
const spikeWidths = [0, 0, 0.45];
const flatLevels = [0.012, 0];
const flatWidths = [0, 0.45];

const SALMON = "#f4726b";
const TEAL = "#17bcc4";

function violinConfig(p: any) {
  const W = p.r - p.l, H = p.b - p.t, wy = 60, padT = 6, padR = 6;
  const wx = p.names ? 60 : 14;
  const dots = [
    ...p.dots1.map(([d, y]: number[]) => ({ x: 1 + d, y })),
    ...p.zeros1.map((d: number) => ({ x: 1 + d, y: 0 })),
    ...p.dots2.map(([d, y]: number[]) => ({ x: 2 + d, y })),
    ...p.zeros2.map((d: number) => ({ x: 2 + d, y: 0 })),
  ];
  const line = { showLine: true, pointRadius: 0, borderColor: "#686868", borderWidth: 1, tension: 0 };
  const axis = "#7b7b7b";
  const names = ["KNDy", "Ghrh"];
  return {
    box: { left: p.l - wy, top: p.t + 2 - padT, width: wy + W + padR, height: padT + H + wx },
    config: {
      type: "scatter",
      data: {
        datasets: [
          { data: dots, pointBackgroundColor: "#050505", pointRadius: p.names ? 1.9 : 2.1, pointBorderWidth: 0 },
          { ...line, data: outline(1, p.v1, p.w1), violinFill: p.v1.length > 3 ? SALMON : undefined },
          { ...line, data: outline(2, p.v2, p.w2), violinFill: p.v2.length > 3 ? TEAL : undefined },
        ],
      },
      plugins: [violinFillPlugin],
      options: {
        animation: false, responsive: false, events: [],
        layout: { autoPadding: false, padding: { top: padT, right: padR, left: 0, bottom: 0 } },
        plugins: { legend: { display: false }, tooltip: { enabled: false } },
        scales: {
          x: {
            type: "linear", min: 0.39, max: 2.6, afterBuildTicks: fixTicks([1, 2]),
            afterFit: (s: any) => { s.height = wx; noPad(s); },
            grid: { drawOnChartArea: false, color: axis, lineWidth: 1, tickLength: 3 },
            border: { color: axis, width: 1.5 },
            ticks: {
              color: "#000", font: { family: LATO, size: 30, weight: "bold" }, padding: 13, autoSkip: false, maxRotation: 0,
              callback: (v: number) => (p.names ? names[v - 1] : ""),
            },
          },
          y: {
            type: "linear", min: p.y0, max: p.y1, afterBuildTicks: fixTicks(p.ticks),
            afterFit: (s: any) => { s.width = wy; noPad(s); },
            grid: { drawOnChartArea: false, color: axis, lineWidth: 1, tickLength: 3 },
            border: { color: axis, width: 1.5 },
            ticks: {
              color: "#7d7d7d", font: { family: SANS, size: 13 }, padding: 2, labelOffset: 1, autoSkip: false,
              callback: (v: number) => v.toFixed(p.dec),
            },
            title: { display: true, text: "Expression Level", color: "#8a8a8a", font: { family: SANS, size: 14 }, padding: 51.6 - p.labelGap },
          },
        },
      },
    },
  };
}

const tsnePanels = [
  { cluster: "A", main: true, palette: purplePalette, vmax: 5.71, l: 130, r: 359, t: 83, b: 395 },
  { cluster: "A", cells: mc3rCellsA, palette: redPalette, vmax: 2.57, l: 583, r: 811, t: 84, b: 395 },
  { cluster: "A", cells: mc4rCellsA, palette: redPalette, vmax: 1.59, l: 133, r: 362, t: 534, b: 844 },
  { cluster: "A", cells: leprCellsA, palette: redPalette, vmax: 0.0151, l: 609, r: 837, t: 534, b: 844 },
  { cluster: "B", main: true, palette: greenPalette, vmax: 6.17, l: 1093, r: 1349, t: 82, b: 393 },
  { cluster: "B", cells: mc3rCellsB, palette: redPalette, vmax: 2.56, l: 1557, r: 1814, t: 84, b: 393 },
  { cluster: "B", cells: mc4rCellsB, palette: redPalette, vmax: 1, l: 1095, r: 1351, t: 534, b: 844 },
  { cluster: "B", cells: leprCellsB, palette: redPalette, vmax: 2.2, l: 1561, r: 1816, t: 534, b: 844 },
];
const colorBars = [
  { name: "Tac2", palette: purplePalette, lo: 0, hi: 5.71, ticks: [0, 1, 2, 3, 4, 5], dec: 0, x0: 389, x1: 424, y0: 159, y1: 335 },
  { name: "Mc3r", palette: redPalette, lo: 0, hi: 2.57, ticks: [0, .5, 1, 1.5, 2, 2.5], dec: 1, x0: 842, x1: 877, y0: 158, y1: 335 },
  { name: "Mc4r", palette: redPalette, lo: 0, hi: 1.59, ticks: [0, .4, .8, 1.2], dec: 1, x0: 393, x1: 428, y0: 609, y1: 787 },
  { name: "Lepr", palette: redPalette, lo: 0, hi: 0.0151, ticks: [0, .005, .01], dec: 3, x0: 867, x1: 901, y0: 609, y1: 787 },
  { name: "Ghrh", palette: greenPalette, lo: 0, hi: 6.17, ticks: [0, 2, 4, 6], dec: 0, x0: 1379, x1: 1414, y0: 157, y1: 333 },
  { name: "Mc3r", palette: redPalette, lo: 0, hi: 2.56, ticks: [0, .5, 1, 1.5, 2, 2.5], dec: 1, x0: 1844, x1: 1879, y0: 157, y1: 333 },
  { name: "Mc4r", palette: greyPalette, lo: -1, hi: 1, ticks: [0], dec: 0, x0: 1382, x1: 1416, y0: 609, y1: 787 },
  { name: "Lepr", palette: redPalette, lo: 0, hi: 2.2, ticks: [0, .5, 1, 1.5, 2], dec: 1, x0: 1848, x1: 1883, y0: 607, y1: 785 },
];

const violinPanels = [
  { labelGap: 24, l: 105, r: 428, t: 1081, b: 1412, y0: -.256, y1: 5.39, ticks: [0, 1, 2, 3, 4, 5], dec: 0, v1: kiss1CampbellLevels, w1: kiss1CampbellWidths, v2: spikeLevels(.8), w2: spikeWidths, dots1: kiss1CampbellDots, zeros1: kiss1CampbellZeros, dots2: groupTwoKiss1CampbellDots, zeros2: solidZeroRow },
  { labelGap: 25, l: 472, r: 794, t: 1081, b: 1412, y0: -.283, y1: 5.96, ticks: [0, 2, 4], dec: 0, v1: tac2CampbellLevels, w1: tac2CampbellWidths, v2: spikeLevels(1.72), w2: spikeWidths, dots1: tac2CampbellDots, zeros1: tac2CampbellZeros, dots2: tac2CampbellGroupTwoDots, zeros2: solidZeroRow },
  { labelGap: 25, l: 837, r: 1159, t: 1081, b: 1412, y0: -.3, y1: 6.38, ticks: [0, 2, 4, 6], dec: 0, v1: spikeLevels(2.45), w1: spikeWidths, v2: ghrhCampbellLevels, w2: ghrhCampbellWidths, dots1: ghrhCampbellKndyDots, zeros1: ghrhCampbellKndyZeros, dots2: ghrhCampbellDots, zeros2: ghrhCampbellZeros },
  { labelGap: 27, l: 1202, r: 1523, t: 1081, b: 1412, y0: -.127, y1: 2.68, ticks: [0, 1, 2], dec: 0, v1: spikeLevels(2.55), w1: spikeWidths, v2: spikeLevels(2.55), w2: spikeWidths, dots1: mc3rCampbellKndyDots, zeros1: solidZeroRow, dots2: mc3rCampbellGhrhDots, zeros2: solidZeroRow },
  { labelGap: 31, l: 1576, r: 1898, t: 1081, b: 1412, y0: -.107, y1: 2.257, ticks: [0, .5, 1, 1.5, 2], dec: 1, v1: flatLevels, w1: flatWidths, v2: spikeLevels(2.15), w2: spikeWidths, dots1: [], zeros1: solidZeroRow, dots2: leprCampbellGhrhDots, zeros2: solidZeroRow },
  { labelGap: 26, names: true, l: 107, r: 427, t: 1462, b: 1793, y0: -.25, y1: 5.18, ticks: [0, 1, 2, 3, 4, 5], dec: 0, v1: kiss1ChenLevels, w1: kiss1ChenWidths, v2: spikeLevels(1.27), w2: spikeWidths, dots1: kiss1ChenDots, zeros1: kiss1ChenZeros, dots2: kiss1ChenGhrhDots, zeros2: gappedZeroRow },
  { labelGap: 26, names: true, l: 470, r: 790, t: 1461, b: 1792, y0: -.264, y1: 5.98, ticks: [0, 2, 4], dec: 0, v1: tac2ChenLevels, w1: tac2ChenWidths, v2: flatLevels, w2: flatWidths, dots1: tac2ChenDots, zeros1: tac2ChenZeros, dots2: [], zeros2: gappedZeroRow },
  { labelGap: 27, names: true, l: 834, r: 1154, t: 1461, b: 1792, y0: -.21, y1: 4.72, ticks: [0, 1, 2, 3, 4], dec: 0, v1: spikeLevels(1.83), w1: spikeWidths, v2: ghrhChenLevels, w2: ghrhChenWidths, dots1: ghrhChenKndyDots, zeros1: gappedZeroRow, dots2: ghrhChenDots, zeros2: ghrhChenZeros },
  { labelGap: 33, names: true, l: 1207, r: 1527, t: 1461, b: 1792, y0: -.1, y1: 2.24, ticks: [0, .5, 1, 1.5, 2], dec: 1, v1: spikeLevels(2.13), w1: spikeWidths, v2: spikeLevels(1.42), w2: spikeWidths, dots1: mc3rChenKndyDots, zeros1: gappedZeroRow, dots2: mc3rChenGhrhDots, zeros2: gappedZeroRow },
  { labelGap: 34, names: true, l: 1581, r: 1902, t: 1461, b: 1792, y0: -.05, y1: 1.16, ticks: [0, .3, .6, .9], dec: 1, v1: flatLevels, w1: flatWidths, v2: spikeLevels(1.12), w2: spikeWidths, dots1: [], zeros1: gappedZeroRow, dots2: leprChenGhrhDots, zeros2: gappedZeroRow },
];

const geneTitles: [string, number, number][] = [
  ["Tac2", 258, 56], ["Mc3r", 719, 56], ["Mc4r", 258, 509], ["Lepr", 740, 509],
  ["Ghrh", 1235, 57], ["Mc3r", 1695, 48], ["Mc4r", 1220, 509], ["Lepr", 1695, 509],
  ["Kiss1", 255, 1044], ["Tac2", 648, 1044], ["Ghrh", 1004, 1044], ["Mc3r", 1367, 1044], ["Lepr", 1730, 1044],
];
const panelLetters: [string, number, number][] = [["a", 0, 35], ["b", 987, 35], ["c", 0, 1014]];
const rowLabels: [string, number, number, number][] = [["Campbell et al.", 33, 1252, 38], ["Chen et al.", 33, 1620, 36]];

function Plot({ spec, soft }: { spec: any; soft?: boolean }) {
  const ref = useRef<HTMLCanvasElement>(null);
  useEffect(() => {
    const chart = new Chart(ref.current as any, spec.config);
    return () => chart.destroy();
  }, []);
  const { left, top, width, height } = spec.box;
  return (
    <div style={{ position: "absolute", left, top, width, height, filter: soft ? "blur(0.5px)" : undefined }}>
      <canvas ref={ref} width={width} height={height} style={{ display: "block" }} />
    </div>
  );
}

const centred: any = { position: "absolute", whiteSpace: "nowrap", fontFamily: LATO, fontWeight: 700, color: "#000", lineHeight: 1 };

export default function App() {
  return (
    <div style={{ position: "absolute", left: 0, top: 0, width: 1933, height: 1844, overflow: "hidden", background: "#fff" }}>
      {tsnePanels.map((p, i) => <Plot key={"t" + i} spec={tsneConfig(p)} />)}
      {colorBars.map((p, i) => <Plot key={"c" + i} spec={barConfig(p)} />)}
      {violinPanels.map((p, i) => <Plot key={"v" + i} spec={violinConfig(p)} soft />)}
      {geneTitles.map(([t, x, y], i) => (
        <div key={"g" + i} style={{ ...centred, left: x, top: y, fontSize: 32, fontStyle: "italic", transform: "translate(-50%,-50%)" }}>{t}</div>
      ))}
      {panelLetters.map(([t, x, y], i) => (
        <div key={"l" + i} style={{ ...centred, left: x, top: y - 36, fontSize: 46 }}>{t}</div>
      ))}
      {rowLabels.map(([t, x, y, size], i) => (
        <div key={"r" + i} style={{ ...centred, left: x, top: y, fontSize: size, transform: "translate(-50%,-50%) rotate(-90deg)" }}>{t}</div>
      ))}
    </div>
  );
}
